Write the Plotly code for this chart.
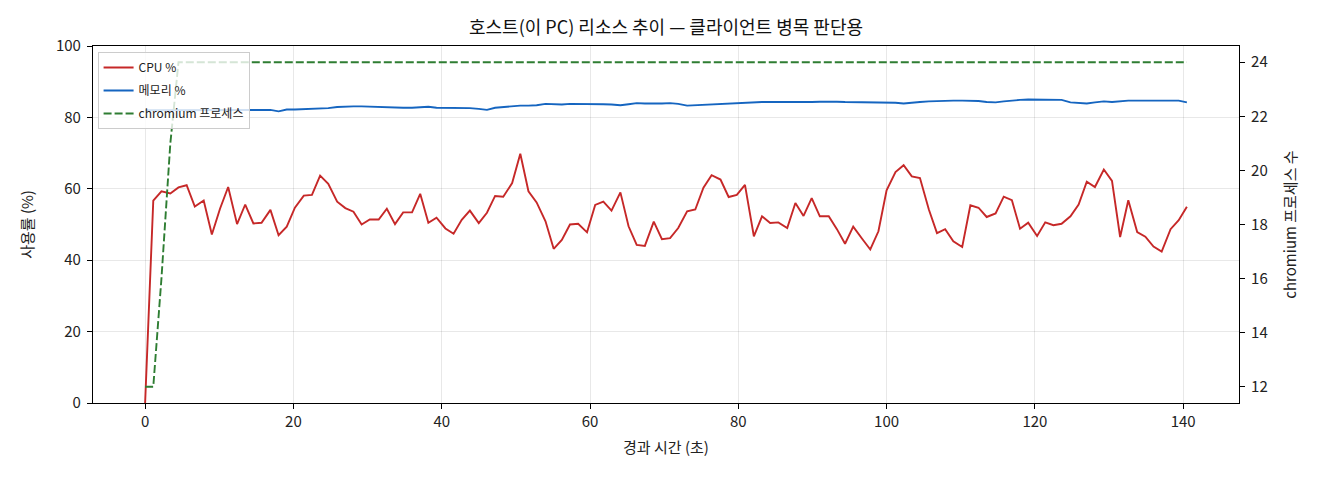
import plotly.graph_objects as go

# 경과 시간 (초)
elapsed = [
    0.0, 1.1, 2.2, 3.4, 4.5, 5.6, 6.7, 7.9, 9.0, 10.1,
    11.2, 12.4, 13.5, 14.6, 15.7, 16.9, 18.0, 19.1, 20.2, 21.4,
    22.5, 23.6, 24.7, 25.9, 27.0, 28.1, 29.2, 30.3, 31.5, 32.6,
    33.7, 34.8, 36.0, 37.1, 38.2, 39.3, 40.5, 41.6, 42.7, 43.8,
    45.0, 46.1, 47.2, 48.3, 49.5, 50.6, 51.7, 52.8, 54.0, 55.1,
    56.2, 57.3, 58.4, 59.6, 60.7, 61.8, 62.9, 64.1, 65.2, 66.3,
    67.4, 68.6, 69.7, 70.8, 71.9, 73.1, 74.2, 75.3, 76.4, 77.6,
    78.7, 79.8, 80.9, 82.1, 83.2, 84.3, 85.4, 86.6, 87.7, 88.8,
    89.9, 91.0, 92.2, 93.3, 94.4, 95.5, 96.7, 97.8, 98.9, 100.0,
    101.2, 102.3, 103.4, 104.5, 105.7, 106.8, 107.9, 109.0, 110.2, 111.3,
    112.4, 113.5, 114.7, 115.8, 116.9, 118.0, 119.1, 120.3, 121.4, 122.5,
    123.6, 124.8, 125.9, 127.0, 128.1, 129.3, 130.4, 131.5, 132.6, 133.8,
    134.9, 136.0, 137.1, 138.3, 139.4, 140.5,
]

cpu_pct = [
    0.0, 56.7, 59.3, 58.7, 60.4, 61.0, 55.0, 56.7, 47.2, 54.4,
    60.5, 50.1, 55.6, 50.3, 50.5, 54.1, 47.0, 49.4, 54.7, 58.1,
    58.3, 63.7, 61.4, 56.4, 54.6, 53.6, 50.0, 51.4, 51.4, 54.4,
    50.1, 53.4, 53.4, 58.6, 50.5, 51.9, 48.9, 47.4, 51.3, 53.9,
    50.4, 53.3, 58.0, 57.8, 61.6, 69.8, 59.3, 56.2, 50.9, 43.2,
    45.7, 50.0, 50.2, 47.8, 55.5, 56.4, 53.9, 59.0, 49.5, 44.3,
    44.0, 50.8, 45.9, 46.2, 49.0, 53.7, 54.2, 60.3, 63.8, 62.6,
    57.7, 58.3, 61.1, 46.7, 52.3, 50.4, 50.6, 49.0, 56.0, 52.4,
    57.4, 52.3, 52.3, 48.7, 44.6, 49.4, 46.0, 43.0, 48.1, 59.6,
    64.7, 66.6, 63.5, 63.0, 54.2, 47.6, 48.7, 45.3, 43.7, 55.4,
    54.7, 52.1, 53.1, 57.8, 56.8, 48.8, 50.5, 46.8, 50.6, 49.8,
    50.2, 52.3, 55.6, 62.0, 60.5, 65.4, 62.2, 46.5, 56.8, 47.9,
    46.6, 43.8, 42.4, 48.7, 51.2, 55.0,
]

mem_pct = [
    82.0, 82.0, 82.0, 82.1, 82.1, 82.0, 82.1, 82.1, 82.2, 82.1,
    82.2, 82.2, 82.1, 82.2, 82.2, 82.1, 81.7, 82.2, 82.2, 82.3,
    82.4, 82.5, 82.6, 82.9, 83.1, 83.1, 83.1, 83.0, 82.9, 82.8,
    82.7, 82.7, 82.7, 82.8, 83.0, 82.7, 82.7, 82.7, 82.7, 82.6,
    82.4, 82.1, 82.7, 82.9, 83.1, 83.3, 83.3, 83.4, 83.8, 83.7,
    83.6, 83.8, 83.8, 83.9, 83.9, 83.7, 83.6, 83.4, 83.7, 84.0,
    83.9, 83.8, 83.9, 84.0, 83.8, 83.3, 83.4, 83.5, 83.6, 83.8,
    84.0, 84.1, 84.2, 84.2, 84.3, 84.3, 84.3, 84.2, 84.1, 84.2,
    84.3, 84.4, 84.5, 84.4, 84.3, 84.3, 84.3, 84.2, 84.2, 84.2,
    84.1, 83.9, 84.0, 84.3, 84.5, 84.6, 84.7, 84.7, 84.7, 84.7,
    84.6, 84.3, 84.2, 84.5, 84.8, 84.9, 85.0, 85.0, 85.0, 85.0,
    84.9, 84.2, 84.0, 83.9, 84.2, 84.5, 84.3, 84.5, 84.7, 84.7,
    84.7, 84.7, 84.7, 84.7, 84.7, 84.2,
]

chromium_procs = [12, 12, 16, 21] + [24] * 122

FONT = 'Noto Sans CJK KR'

fig = go.Figure()

fig.add_trace(go.Scatter(
    x=elapsed, y=cpu_pct,
    mode='lines', name='CPU %', legendgroup='cpu',
    line=dict(color='#c62828', width=1.9)
))

fig.add_trace(go.Scatter(
    x=elapsed, y=mem_pct,
    mode='lines', name='메모리 %', legendgroup='mem',
    line=dict(color='#1565c0', width=1.9)
))

fig.add_trace(go.Scatter(
    x=elapsed, y=chromium_procs,
    mode='lines', name='chromium 프로세스', legendgroup='proc',
    line=dict(color='#2e7d32', width=1.9, dash='8px,3px'),
    yaxis='y2'
))

axis_common = dict(
    showline=True, linecolor='black', linewidth=1.2,
    ticks='outside', ticklen=5, tickwidth=1.2, tickcolor='black',
    tickfont=dict(family=FONT, size=15, color='#222'),
    zeroline=False,
)

# 페이지 body 여백(8px)만큼 보정
fig.update_layout(
    width=1320, height=480,
    margin=dict(l=85, r=89, t=38, b=85),
    plot_bgcolor='white', paper_bgcolor='white',
    font=dict(family=FONT, color='#222'),
    title=dict(
        text='호스트(이 PC) 리소스 추이 — 클라이언트 병목 판단용',
        x=0.5, xref='paper', y=1 - 20 / 480, yref='container',
        xanchor='center', yanchor='middle',
        font=dict(family=FONT, size=18, color='#111')
    ),
    xaxis=dict(
        range=[-7.03, 147.53],
        tickvals=[0, 20, 40, 60, 80, 100, 120, 140],
        showgrid=True, gridcolor='rgba(0,0,0,0.09)', gridwidth=1,
        mirror=True,
        title=dict(text='경과 시간 (초)', standoff=12,
                   font=dict(family=FONT, size=15, color='#222')),
        **axis_common
    ),
    yaxis=dict(
        range=[0, 100],
        tickvals=[0, 20, 40, 60, 80, 100],
        showgrid=True, gridcolor='rgba(0,0,0,0.09)', gridwidth=1,
        ticklabelstandoff=3,
        title=dict(text='사용률 (%)', standoff=18,
                   font=dict(family=FONT, size=15, color='#222')),
        **axis_common
    ),
    yaxis2=dict(
        range=[11.4, 24.6],
        tickvals=[12, 14, 16, 18, 20, 22, 24],
        overlaying='y', side='right',
        showgrid=False,
        ticklabelstandoff=3,
        title=dict(text='chromium 프로세스 수', standoff=18,
                   font=dict(family=FONT, size=15, color='#222')),
        **axis_common
    ),
    legend=dict(
        x=0.004, y=0.983, xanchor='left', yanchor='top',
        bgcolor='rgba(255,255,255,0.8)',
        bordercolor='#cccccc', borderwidth=1,
        font=dict(family=FONT, size=12, color='#222'),
        tracegroupgap=4, itemwidth=30
    ),
    showlegend=True,
)

fig.write_html("out.html")
